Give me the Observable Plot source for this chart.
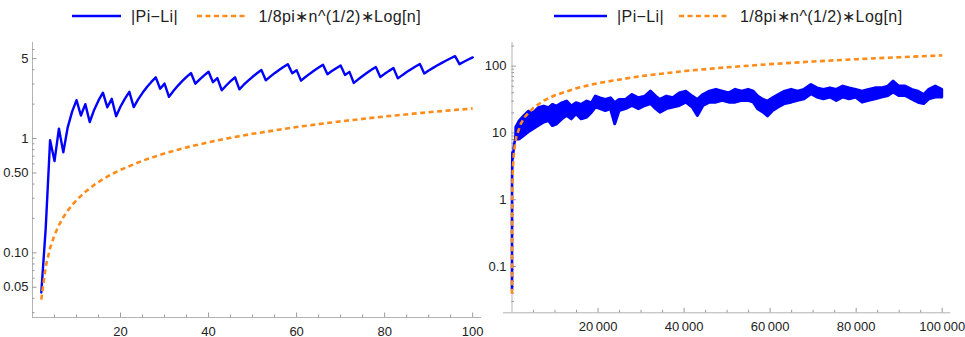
<!DOCTYPE html>
<html>
<head>
<meta charset="utf-8">
<script src="https://cdn.jsdelivr.net/npm/d3@7"></script>
<script src="https://cdn.jsdelivr.net/npm/@observablehq/plot@0.6"></script>
<style>
  html, body { margin: 0; padding: 0; background: #fff; }
  #root { position: relative; width: 965px; height: 337px; overflow: hidden; font-family: 'Liberation Sans', Arial, sans-serif; }
  .lg { position: absolute; top: 7px; line-height: 20px; font-size: 16px; letter-spacing: 0.4px; color: #222; white-space: nowrap; }
  .sw { position: absolute; top: 14px; height: 4px; }
  .panel { position: absolute; top: 35px; }
</style>
</head>
<body>
<div id="root"></div>
<script>
// ---------- data ----------
const seriesNames = ["|Pi\u2212Li|", "1/8pi\u2217n^(1/2)\u2217Log[n]"];

// left panel: |Pi - Li| for n = 2..100
const leftStartN = 2;
const leftDiff = [
  0.045, 0.164, 0.968, 0.635, 1.222, 0.757, 1.254, 1.721, 2.166,
  1.591, 2.000, 1.396, 1.780, 2.154, 2.519, 1.876, 2.225, 1.568, 1.905,
  2.236, 2.562, 1.884, 2.200, 2.513, 2.822, 3.127, 3.429, 2.727, 3.023,
  2.315, 2.605, 2.892, 3.177, 3.460, 3.740, 3.018, 3.294, 3.568, 3.840,
  3.110, 3.378, 2.645, 2.910, 3.173, 3.435, 2.696, 2.955, 3.212, 3.469,
  3.724, 3.977, 3.230, 3.481, 3.731, 3.980, 4.228, 4.475, 3.721, 3.965,
  3.209, 3.452, 3.694, 3.935, 4.175, 4.414, 3.652, 3.890, 4.126, 4.362,
  3.597, 3.831, 3.065, 3.297, 3.529, 3.761, 3.991, 4.221, 3.450, 3.679,
  3.907, 4.134, 3.360, 3.586, 3.812, 4.037, 4.261, 4.484, 3.708, 3.930,
  4.152, 4.373, 4.594, 4.815, 5.035, 5.254, 4.473, 4.691, 4.909, 5.126
];
// left panel: 1/(8pi) sqrt(n) log(n)
const leftOrangeN = [2, 3, 4, 5, 6, 7, 8, 9, 10, 12, 14, 16, 18, 20, 25, 30, 35, 40, 45, 50, 60, 70, 80, 90, 100];
const leftOrangeV = [0.0390, 0.0757, 0.1103, 0.1432, 0.1746, 0.2049, 0.2340, 0.2623, 0.2897, 0.3425, 0.3929, 0.4413, 0.4879, 0.5331, 0.6404, 0.7412, 0.8369, 0.9283, 1.0160, 1.1006, 1.2619, 1.4143, 1.5596, 1.6985, 1.8323];

// right panel: start of |Pi - Li| (small n)
const rightStartN = [2, 3, 4, 5, 7, 10, 20, 50, 100, 200, 500, 1000];
const rightStartV = [0.045, 0.164, 0.968, 0.635, 0.757, 2.166, 1.905, 3.469, 5.126, 4.19, 6.79, 9.61];
// right panel: dense band of |Pi - Li| (lower / upper envelope)
const bandN = [1000, 1800, 2800, 3900, 5000, 6200, 7500, 8600, 9500, 10500, 11700, 12800, 13900, 15000, 16200, 17500, 18600, 19500, 20600, 21800, 23000, 24000, 25000, 26500, 28000, 29500, 31000, 32300, 33500, 34500, 36000, 37500, 39000, 40500, 42000, 43200, 44500, 46000, 47500, 49000, 50500, 52000, 53500, 55000, 56200, 57200, 58500, 59500, 60700, 62000, 63500, 65000, 66500, 68000, 69600, 71000, 72500, 74000, 75500, 77000, 78500, 80000, 81500, 83000, 84500, 86000, 87500, 88700, 90000, 91500, 93000, 94500, 95800, 97000, 98500, 100000];
const bandHi = [12, 15, 17.6, 20.8, 19.7, 23.4, 24.8, 23.4, 26.3, 24.8, 27.8, 29.5, 24.8, 27.8, 26.3, 29.5, 27.8, 35.0, 33.0, 31.2, 33.0, 27.8, 31.2, 31.2, 37.0, 33.0, 35.0, 41.5, 35.0, 31.2, 35.0, 33.0, 39.1, 41.5, 35.0, 31.2, 37.0, 41.5, 44.2, 41.5, 39.1, 44.2, 41.5, 44.2, 41.5, 35.0, 31.2, 29.5, 33.0, 37.0, 41.5, 44.2, 41.5, 44.2, 52.3, 46.5, 44.2, 46.5, 44.2, 49.4, 46.5, 44.2, 41.5, 44.2, 46.5, 46.5, 49.4, 58.6, 49.4, 49.4, 44.2, 41.5, 37.0, 44.2, 49.4, 44.2];
const bandLo = [8, 8, 9.0, 10.2, 11.4, 12.7, 14.3, 15.1, 12.7, 13.5, 16.0, 18.0, 16.0, 19.1, 16.0, 17.0, 20.1, 24.0, 22.7, 21.3, 22.7, 13.5, 21.3, 22.7, 25.3, 22.7, 25.3, 27.1, 22.7, 20.1, 22.7, 24.0, 25.3, 28.4, 24.0, 18.0, 25.3, 28.4, 28.4, 30.2, 28.4, 28.4, 30.2, 30.2, 28.4, 22.7, 20.1, 17.7, 21.3, 24.0, 27.1, 28.4, 30.2, 31.9, 38.0, 33.9, 31.9, 33.9, 30.2, 33.9, 31.9, 33.9, 28.4, 30.2, 31.9, 33.9, 35.8, 40.3, 35.8, 35.8, 31.9, 28.4, 27.1, 31.9, 33.9, 33.9];
// right panel: 1/(8pi) sqrt(n) log(n)
const rightOrangeN = [2, 5, 10, 20, 50, 100, 200, 500, 1000, 2000, 3000, 5000, 7500, 10000, 15000, 20000, 30000, 40000, 50000, 60000, 70000, 80000, 90000, 100000];
const rightOrangeV = [0.039, 0.1432, 0.2897, 0.5331, 1.1006, 1.8323, 2.981, 5.529, 8.691, 13.525, 17.449, 23.963, 30.746, 36.647, 46.858, 55.727, 71.05, 84.33, 96.27, 107.23, 117.44, 127.06, 136.17, 144.86];

// ticks
const leftXMajor = [20, 40, 60, 80, 100];
const leftXLabels = ["20", "40", "60", "80", "100"];
const leftXMinor = [5, 10, 15, 25, 30, 35, 45, 50, 55, 65, 70, 75, 85, 90, 95];
const leftYMajor = [0.05, 0.1, 0.5, 1, 5];
const leftYLabels = ["0.05", "0.10", "0.50", "1", "5"];
const leftYMinor = [0.03, 0.04, 0.06, 0.07, 0.08, 0.09, 0.2, 0.3, 0.4, 0.6, 0.7, 0.8, 0.9, 2, 3, 4, 6];
const rightXMajor = [20000, 40000, 60000, 80000, 100000];
const rightXLabels = ["20\u2009000", "40\u2009000", "60\u2009000", "80\u2009000", "100\u2009000"];
const rightXMinor = [5000, 10000, 15000, 25000, 30000, 35000, 45000, 50000, 55000, 65000, 70000, 75000, 85000, 90000, 95000];
const rightYMajor = [0.1, 1, 10, 100];
const rightYLabels = ["0.1", "1", "10", "100"];
const rightYMinor = [0.03, 0.04, 0.05, 0.06, 0.07, 0.08, 0.09, 0.2, 0.3, 0.4, 0.5, 0.6, 0.7, 0.8, 0.9, 2, 3, 4, 5, 6, 7, 8, 9, 20, 30, 40, 50, 60, 70, 80, 90, 200];

// ---------- style ----------
const BLUE = "#0000ff", ORANGE = "#ff8c1a";
const AXIS = "#b3b3b3", TICK = "#9a9a9a", TEXT = "#222";
const DASH = "5,3.5";
const FONT = "'Liberation Sans', Arial, sans-serif";

function lookup(values, labels) {
  const m = new Map(values.map((v, i) => [v, labels[i]]));
  return d => m.get(+d);
}

function axes(o) {
  const xf = lookup(o.xMajor, o.xLabels), yf = lookup(o.yMajor, o.yLabels);
  return [
    Plot.ruleX([o.xAxisAt], {stroke: AXIS, strokeWidth: 1}),
    Plot.ruleY([o.yDomain[0]], {stroke: AXIS, strokeWidth: 1, x1: o.xLineStart, x2: o.xDomain[1]}),
    Plot.axisX(o.xMinor, {tickSize: 2.5, dy: -2.5, stroke: TICK, tickFormat: () => "", label: null}),
    Plot.axisX(o.xMajor, {tickSize: 4.5, dy: -4.5, stroke: TICK, tickFormat: () => "", label: null}),
    Plot.axisY(o.yMinor, {tickSize: 2.5, dx: 2.5, stroke: TICK, tickFormat: () => "", label: null}),
    Plot.axisY(o.yMajor, {tickSize: 4.5, dx: 4.5, stroke: TICK, tickFormat: () => "", label: null}),
    // tick labels
    Plot.text(o.xMajor, {x: d => d, frameAnchor: "bottom", text: xf, dy: o.xBase, lineAnchor: "bottom", fill: TEXT, fontSize: 13}),
    Plot.text(o.yMajor, {y: d => d, frameAnchor: "left", text: yf, dx: -o.yPad, textAnchor: "end", lineAnchor: "middle", fill: TEXT, fontSize: 13})
  ];
}

const common = {
  style: {fontFamily: FONT, fontSize: "13px", color: TEXT, background: "transparent", overflow: "visible"}
};

// ---------- left panel ----------
const leftDomainX = [0, 102], leftDomainY = [0.0272, 6.92];
const leftPlot = Plot.plot({
  ...common,
  width: 490, height: 302,
  marginTop: 7, marginBottom: 20, marginLeft: 32, marginRight: 9,
  x: {domain: leftDomainX, label: null, axis: null},
  y: {type: "log", domain: leftDomainY, label: null, axis: null},
  marks: [
    ...axes({xAxisAt: 0, xDomain: leftDomainX, yDomain: leftDomainY, xLineStart: 0,
      xMinor: leftXMinor, xMajor: leftXMajor, xLabels: leftXLabels, yMinor: leftYMinor, yMajor: leftYMajor, yLabels: leftYLabels,
      xBase: 18, yPad: 4}),
    Plot.line(leftDiff, {x: (d, i) => i + leftStartN, y: d => d, stroke: BLUE, strokeWidth: 2.4}),
    Plot.line(leftOrangeN, {x: d => d, y: (d, i) => leftOrangeV[i], stroke: ORANGE, strokeWidth: 2.6, strokeDasharray: DASH, strokeLinecap: "butt"})
  ]
});

// ---------- right panel ----------
const rightDomainX = [0, 102000], rightDomainY = [0.0203, 226];
const rightPlot = Plot.plot({
  ...common,
  width: 485, height: 302,
  marginTop: 7, marginBottom: 24.7, marginLeft: 31.5, marginRight: 14.7,
  x: {domain: rightDomainX, label: null, axis: null},
  y: {type: "log", domain: rightDomainY, label: null, axis: null},
  marks: [
    ...axes({xAxisAt: 0, xDomain: rightDomainX, yDomain: rightDomainY, xLineStart: -2000,
      xMinor: rightXMinor, xMajor: rightXMajor, xLabels: rightXLabels, yMinor: rightYMinor, yMajor: rightYMajor, yLabels: rightYLabels,
      xBase: 18, yPad: 5.5}),
    Plot.line(rightStartN, {x: d => d, y: (d, i) => rightStartV[i], stroke: BLUE, strokeWidth: 2.6}),
    Plot.areaY(bandN, {x: d => d, y1: (d, i) => bandLo[i], y2: (d, i) => bandHi[i], fill: BLUE, stroke: BLUE, strokeWidth: 3, strokeLinejoin: "round"}),
    Plot.line(rightOrangeN, {x: d => d, y: (d, i) => rightOrangeV[i], stroke: ORANGE, strokeWidth: 2.6, strokeDasharray: DASH, strokeLinecap: "butt"})
  ]
});

// ---------- layout ----------
const root = document.getElementById("root");
function place(el, left) {
  const wrap = document.createElement("div");
  wrap.className = "panel";
  wrap.style.left = left + "px";
  wrap.appendChild(el);
  root.appendChild(wrap);
}
place(leftPlot, 0);
place(rightPlot, 480);

function swatch(left, width, color, dashed) {
  const ns = "http://www.w3.org/2000/svg";
  const s = document.createElementNS(ns, "svg");
  s.setAttribute("class", "sw");
  s.setAttribute("width", width);
  s.setAttribute("height", 4);
  s.style.left = left + "px";
  const l = document.createElementNS(ns, "line");
  l.setAttribute("x1", 0); l.setAttribute("x2", width);
  l.setAttribute("y1", 2); l.setAttribute("y2", 2);
  l.setAttribute("stroke", color);
  l.setAttribute("stroke-width", dashed ? 2.6 : 2.4);
  if (dashed) l.setAttribute("stroke-dasharray", DASH);
  s.appendChild(l);
  root.appendChild(s);
}
function label(left, text) {
  const d = document.createElement("div");
  d.className = "lg";
  d.style.left = left + "px";
  d.textContent = text;
  root.appendChild(d);
}
// left legend
swatch(72, 49, BLUE, false);
label(131, seriesNames[0]);
swatch(196.5, 50, ORANGE, true);
label(258.5, seriesNames[1]);
// right legend
swatch(554, 53, BLUE, false);
label(617, seriesNames[0]);
swatch(679, 51, ORANGE, true);
label(740, seriesNames[1]);
</script>
</body>
</html>
